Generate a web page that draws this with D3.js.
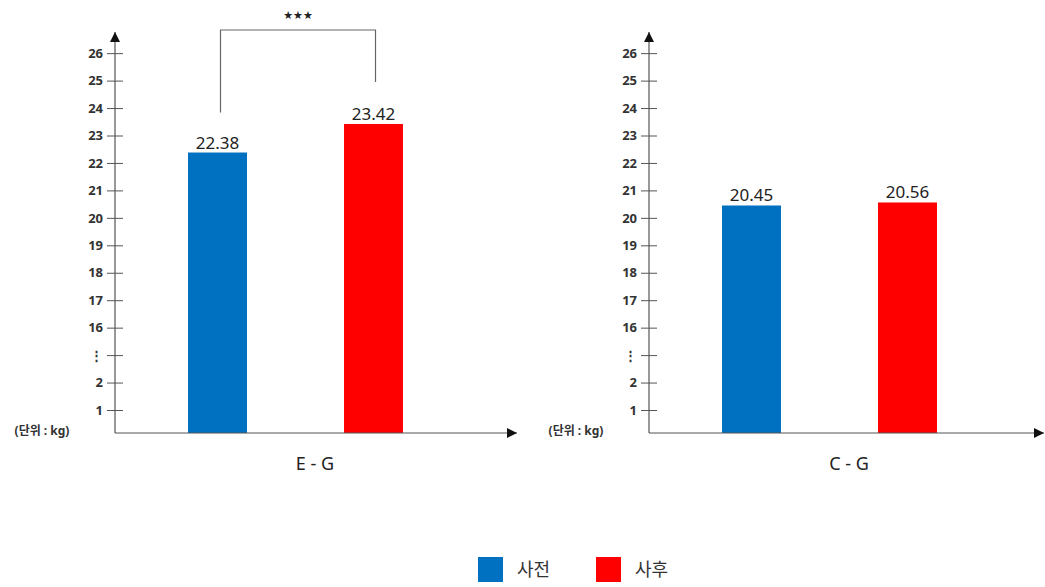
<!DOCTYPE html>
<html>
<head>
<meta charset="utf-8">
<script src="https://cdn.jsdelivr.net/npm/d3@7"></script>
<style>
  body { margin: 0; background: #fff; }
  svg { font-family: "Noto Sans", "Noto Sans CJK KR", sans-serif; }
</style>
</head>
<body>
<div id="chart"></div>
<script>
/* two panel bar chart with broken y axis */

const panels = ["E - G", "C - G"];
const series = ["사전", "사후"];
const before = [22.38, 20.45];
const after = [23.42, 20.56];
const stars = ["★★★", ""];
const tickValues = [1, 2, 9, 16, 17, 18, 19, 20, 21, 22, 23, 24, 25, 26];
const tickLabels = ["1", "2", "⋮", "16", "17", "18", "19", "20", "21", "22", "23", "24", "25", "26"];
const colors = ["#0070C0", "#FF0000"];

const width = 1045,
  height = 587;

const svg = d3.select("#chart")
  .append("svg")
  .attr("width", width)
  .attr("height", height);

svg.append("defs").append("marker")
  .attr("id", "arrow")
  .attr("viewBox", "0 0 10 10")
  .attr("refX", 10)
  .attr("refY", 5)
  .attr("markerWidth", 10)
  .attr("markerHeight", 10)
  .attr("markerUnits", "userSpaceOnUse")
  .attr("orient", "auto")
  .append("path")
  .attr("d", "M0,0L10,5L0,10Z")
  .attr("fill", "#111");

// broken scale: 0..2 then the gap, then 16..26
const slot = 27.45;
const y = d3.scaleLinear()
  .domain([0, 1, 2, 16, 26])
  .range([433, 410, 410 - slot, 410 - 3 * slot, 410 - 13 * slot]);

const axisX = [115, 649];
const axisEnd = [517, 1044];

panels.forEach((name, i) => {
  const x0 = axisX[i];
  const g = svg.append("g");

  const x = d3.scaleBand()
    .domain(series)
    .range([x0, x0 + 361])
    .paddingInner(0.622)
    .paddingOuter(0.468);

  const vals = [before[i], after[i]];

  // bars
  g.selectAll("rect")
    .data(series)
    .join("rect")
    .attr("x", d => x(d))
    .attr("width", x.bandwidth())
    .attr("y", (d, j) => y(vals[j]))
    .attr("height", (d, j) => y(0) - y(vals[j]))
    .attr("fill", (d, j) => colors[j]);

  // value labels
  g.selectAll(".val")
    .data(series)
    .join("text")
    .attr("class", "val")
    .attr("x", d => x(d) + x.bandwidth() / 2)
    .attr("y", (d, j) => y(vals[j]) - 4)
    .attr("text-anchor", "middle")
    .attr("font-size", 17)
    .attr("fill", "#222")
    .text((d, j) => vals[j].toFixed(2));

  // y axis
  const ax = g.append("g")
    .attr("transform", `translate(${x0},0)`)
    .call(d3.axisLeft(y)
      .tickValues(tickValues)
      .tickFormat((d, k) => tickLabels[k])
      .tickSize(8)
      .tickPadding(4));
  ax.select(".domain").remove();
  ax.selectAll(".tick line")
    .attr("x1", -8)
    .attr("x2", 8)
    .attr("stroke", "#555");
  ax.selectAll(".tick text")
    .attr("font-size", 13)
    .attr("font-weight", "bold")
    .attr("fill", "#333")
    .attr("font-family", "Noto Sans");

  g.append("line")
    .attr("x1", x0).attr("x2", x0)
    .attr("y1", y(0)).attr("y2", 32)
    .attr("stroke", "#555")
    .attr("stroke-width", 1.2)
    .attr("marker-end", "url(#arrow)");

  g.append("line")
    .attr("x1", x0).attr("x2", axisEnd[i])
    .attr("y1", y(0)).attr("y2", y(0))
    .attr("stroke", "#555")
    .attr("stroke-width", 1.2)
    .attr("marker-end", "url(#arrow)");

  g.append("text")
    .attr("x", x0 - 73)
    .attr("y", y(0) + 2)
    .attr("font-size", 12)
    .attr("font-weight", "bold")
    .attr("fill", "#333")
    .attr("text-anchor", "middle")
    .text("(단위 : kg)");

  g.append("text")
    .attr("x", x0 + 200)
    .attr("y", 470)
    .attr("text-anchor", "middle")
    .attr("font-size", 18)
    .attr("fill", "#222")
    .text(name);

  // significance bracket
  if (stars[i]) {
    const xa = x(series[0]) + x.bandwidth() / 2 + 3,
      xb = x(series[1]) + x.bandwidth() / 2 + 2;
    g.append("path")
      .attr("d", `M${xa},${y(vals[0]) - 40}V30H${xb}V${y(vals[1]) - 42}`)
      .attr("fill", "none")
      .attr("stroke", "#666")
      .attr("stroke-width", 1.2);
    g.append("text")
      .attr("x", (xa + xb) / 2)
      .attr("y", 19)
      .attr("text-anchor", "middle")
      .attr("font-size", 11)
      .attr("fill", "#222")
      .attr("font-family", "DejaVu Sans")
      .text(stars[i]);
  }
});

// legend
const legend = svg.append("g");
const legX = [478, 596];
series.forEach((s, j) => {
  legend.append("rect")
    .attr("x", legX[j])
    .attr("y", 557)
    .attr("width", 25)
    .attr("height", 25)
    .attr("fill", colors[j]);
  legend.append("text")
    .attr("x", legX[j] + 39)
    .attr("y", 576)
    .attr("font-size", 18)
    .attr("fill", "#333")
    .text(s);
});
</script>
</body>
</html>
